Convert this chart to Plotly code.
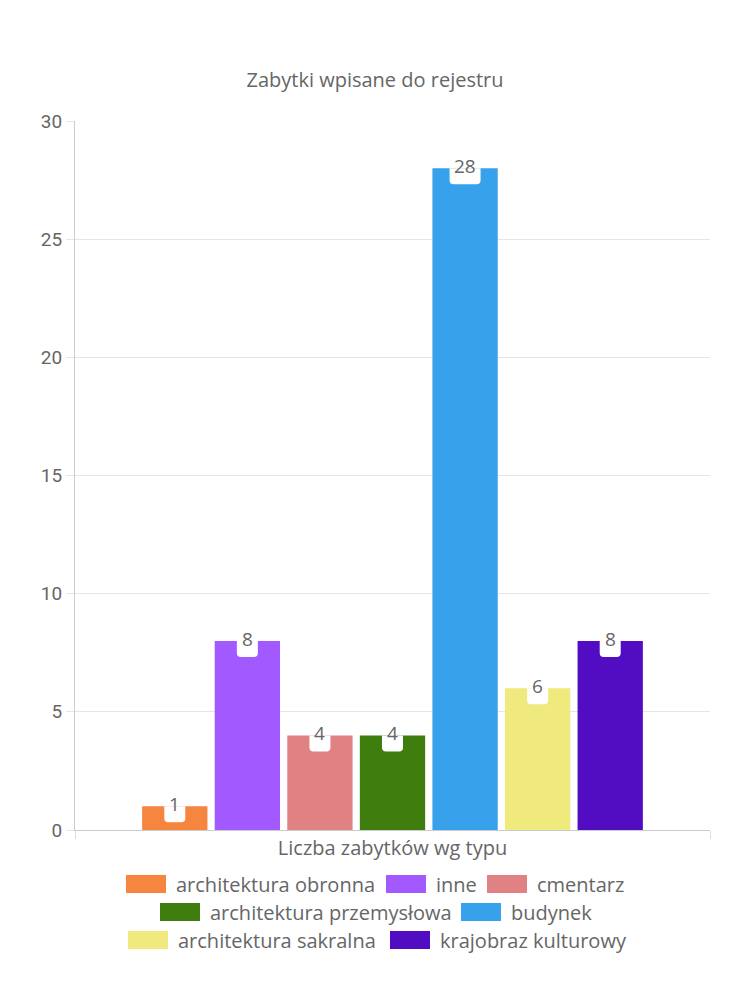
import plotly.graph_objects as go

# ---- data ----
title_text = "Zabytki wpisane do rejestru"
category = "Liczba zabytków wg typu"
types = ["architektura obronna", "inne", "cmentarz", "architektura przemysłowa",
         "budynek", "architektura sakralna", "krajobraz kulturowy"]
counts = [1, 8, 4, 4, 28, 6, 8]
colors = ["#f5853f", "#a259ff", "#e08283", "#3e7d0e", "#37a2eb", "#f0ea7e", "#520dc2"]
y_ticks = [0, 5, 10, 15, 20, 25, 30]

# ---- layout constants ----
W, H = 750, 1000
L, R, T, B = 75, 40, 121, 170
PW, PH = W - L - R, H - T - B
BARGAP, GROUPGAP = 0.2, 0.1
YMAX = 30
FONT = "Open Sans"
TXT = "#666666"

# manual legend placement (pixel positions: swatch left, row center y)
legend_pos = [(126, 884), (386, 884), (487, 884),
              (160, 912), (461, 912),
              (128, 940), (390, 940)]

fig = go.Figure()
for name, v, c in zip(types, counts, colors):
    fig.add_trace(go.Bar(x=[category], y=[v], name=name, showlegend=False,
                         marker=dict(color=c, line=dict(width=0))))

def px2paper_x(px):
    return (px - L) / PW

def py2paper_y(py):
    return (H - B - py) / PH

shapes = []
annotations = []
n = len(types)
slot = (1 - BARGAP) / n
for i, v in enumerate(counts):
    cx = BARGAP / 2 + slot * (i + 0.5)  # paper x (axis range -0.5..0.5)
    half = (5.5 + 5 * len(str(v))) / PW
    hy = 16 * YMAX / PH
    rx = 4 / PW
    ry = 4 * YMAX / PH
    x0, x1 = cx - half, cx + half
    yb = v - hy
    path = (f"M {x0},{v} L {x1},{v} L {x1},{yb + ry} Q {x1},{yb} {x1 - rx},{yb} "
            f"L {x0 + rx},{yb} Q {x0},{yb} {x0},{yb + ry} Z")
    shapes.append(dict(type="path", path=path, xref="paper", yref="y",
                       fillcolor="white", line=dict(width=0), layer="above"))
    annotations.append(dict(x=cx, y=v, xref="paper", yref="y", text=str(v),
                            showarrow=False, xanchor="center", yanchor="middle",
                            yshift=2,
                            font=dict(family=FONT, size=19, color=TXT)))

# manual legend
for (sx, sy), name, c in zip(legend_pos, types, colors):
    shapes.append(dict(type="rect", xref="paper", yref="paper",
                       x0=px2paper_x(sx), x1=px2paper_x(sx + 40),
                       y0=py2paper_y(sy + 9), y1=py2paper_y(sy - 9),
                       fillcolor=c, line=dict(width=0)))
    annotations.append(dict(x=px2paper_x(sx + 48), y=py2paper_y(sy),
                            xref="paper", yref="paper", text=name,
                            showarrow=False, xanchor="left", yanchor="middle",
                            font=dict(family=FONT, size=20, color=TXT)))

fig.update_layout(
    width=W, height=H,
    margin=dict(l=L, r=R, t=T, b=B),
    paper_bgcolor="white", plot_bgcolor="white",
    barmode="group", bargap=BARGAP, bargroupgap=GROUPGAP,
    title=dict(text=title_text, x=0.5, xref="container", y=1 - 80 / H,
               yref="container", xanchor="center", yanchor="middle",
               font=dict(family=FONT, size=20, color=TXT)),
    shapes=shapes, annotations=annotations,
    showlegend=False,
    xaxis=dict(type="category", range=[-0.5, 0.5], showline=True,
               linecolor="#cccccc", linewidth=1, ticks="outside",
               tickson="boundaries", ticklen=8, tickcolor="#dddddd",
               showgrid=True, gridcolor="#e5e5e5",
               tickfont=dict(family=FONT, size=20, color=TXT)),
    yaxis=dict(range=[0, YMAX], tickvals=y_ticks, showline=True,
               linecolor="#cccccc", linewidth=1, ticks="outside", ticklen=8,
               tickcolor="#e5e5e5", gridcolor="#e5e5e5", zeroline=False,
               tickfont=dict(family="Roboto", size=19, color=TXT)),
)

fig.write_html("out.html")
